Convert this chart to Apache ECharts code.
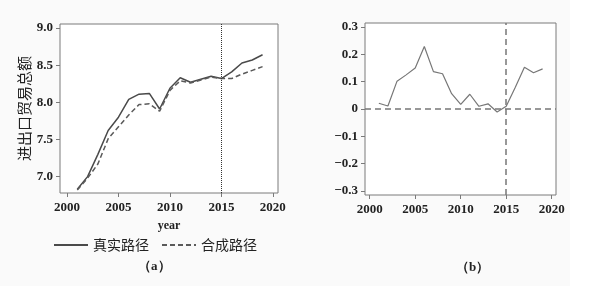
<!DOCTYPE html>
<html><head><meta charset="utf-8">
<script src="https://cdn.jsdelivr.net/npm/echarts@6/dist/echarts.min.js"></script>
<style>html,body{margin:0;padding:0;background:#fafafa}#c{width:589px;height:286px}</style>
</head><body><div id="c"></div>
<script>
const years = [2001,2002,2003,2004,2005,2006,2007,2008,2009,2010,2011,2012,2013,2014,2015,2016,2017,2018,2019];
const realPath = [6.83,7.00,7.30,7.62,7.80,8.04,8.11,8.12,7.91,8.19,8.33,8.27,8.31,8.35,8.32,8.41,8.53,8.57,8.64];
const synthPath = [6.82,6.98,7.17,7.51,7.67,7.83,7.97,7.98,7.88,8.16,8.29,8.26,8.30,8.34,8.32,8.32,8.38,8.43,8.48];
const gap = [0.021,0.011,0.102,0.125,0.150,0.229,0.137,0.129,0.056,0.017,0.054,0.010,0.019,-0.011,0.010,0.080,0.153,0.133,0.147];
const xTicks = [2000,2005,2010,2015,2020];
const yTicksA = [7.0,7.5,8.0,8.5,9.0];
const yTicksB = [-0.3,-0.2,-0.1,0,0.1,0.2,0.3];
const treatYear = 2015;
const legendNames = ['真实路径','合成路径'];

const serif = '"Liberation Serif","DejaVu Serif",serif';
const cjk = '"Noto Sans CJK SC",sans-serif';
const frame = '#7a7a7a';
const lbl = {fontFamily: serif, fontSize: 13, color: '#222', fontWeight: 'bold'};

const chart = echarts.init(document.getElementById('c'));
chart.setOption({
  backgroundColor: '#fafafa',
  animation: false,
  grid: [
    {left: 60, top: 24, width: 218, height: 169, show: true, backgroundColor: '#fff', borderColor: frame, borderWidth: 1},
    {left: 365, top: 23, width: 191, height: 172, show: true, backgroundColor: '#fff', borderColor: frame, borderWidth: 1}
  ],
  xAxis: [
    {type: 'value', gridIndex: 0, min: 1999.32, max: 2020.5,
     name: 'year', nameLocation: 'middle', nameGap: 27,
     nameTextStyle: {fontFamily: serif, fontSize: 12, fontWeight: 'bold', color: '#222'},
     axisLine: {show: false, onZero: false}, splitLine: {show: false},
     axisTick: {show: true, length: 4, lineStyle: {color: frame}, customValues: xTicks},
     axisLabel: Object.assign({margin: 8, customValues: xTicks, formatter: v => String(v)}, lbl)},
    {type: 'value', gridIndex: 1, min: 1999.48, max: 2020.47,
     axisLine: {show: false, onZero: false}, splitLine: {show: false},
     axisTick: {show: true, length: 4, lineStyle: {color: frame}, customValues: xTicks},
     axisLabel: Object.assign({margin: 8, customValues: xTicks, formatter: v => String(v)}, lbl)}
  ],
  yAxis: [
    {type: 'value', gridIndex: 0, min: 6.78, max: 9.054,
     name: '进出口贸易总额', nameLocation: 'middle', nameGap: 28, nameRotate: 90,
     nameTextStyle: {fontFamily: cjk, fontSize: 15, color: '#222'},
     axisLine: {show: false, onZero: false}, splitLine: {show: false},
     axisTick: {show: true, length: 4, lineStyle: {color: frame}, customValues: yTicksA},
     axisLabel: Object.assign({margin: 7, customValues: yTicksA, formatter: v => v.toFixed(1)}, lbl)},
    {type: 'value', gridIndex: 1, min: -0.315, max: 0.315,
     axisLine: {show: false, onZero: false}, splitLine: {show: false},
     axisTick: {show: true, length: 4, lineStyle: {color: frame}, customValues: yTicksB},
     axisLabel: Object.assign({margin: 7, customValues: yTicksB,
       formatter: v => Math.abs(v) < 1e-9 ? '0' : (v < 0 ? '\u2212' + Math.abs(v).toFixed(1) : v.toFixed(1))}, lbl)}
  ],
  legend: {
    left: 48, top: 233, itemWidth: 34, itemHeight: 14, itemGap: 12,
    data: legendNames,
    itemStyle: {opacity: 0},
    textStyle: {fontFamily: cjk, fontSize: 14, color: '#222'}
  },
  series: [
    {name: legendNames[0], type: 'line', xAxisIndex: 0, yAxisIndex: 0, symbol: 'none',
     data: years.map((y, i) => [y, realPath[i]]),
     lineStyle: {color: '#4a4a4a', width: 1.5}, itemStyle: {color: '#4a4a4a'},
     markLine: {silent: true, symbol: 'none', label: {show: false},
       lineStyle: {color: '#333', type: 'dotted', width: 1}, data: [{xAxis: treatYear}]}},
    {name: legendNames[1], type: 'line', xAxisIndex: 0, yAxisIndex: 0, symbol: 'none',
     data: years.map((y, i) => [y, synthPath[i]]),
     lineStyle: {color: '#5a5a5a', width: 1.5, type: [5, 3]}, itemStyle: {color: '#5a5a5a'}},
    {name: 'gap', type: 'line', xAxisIndex: 1, yAxisIndex: 1, symbol: 'none',
     data: years.map((y, i) => [y, gap[i]]),
     lineStyle: {color: '#777', width: 1.2},
     markLine: {silent: true, symbol: 'none', label: {show: false},
       lineStyle: {color: '#777', type: [6, 4], width: 1.5},
       data: [{xAxis: treatYear}, {yAxis: 0}]}}
  ],
  graphic: [
    {type: 'text', left: 138, top: 260, style: {text: '（a）', font: 'bold 13px ' + serif, fill: '#222'}},
    {type: 'text', left: 456, top: 261, style: {text: '（b）', font: 'bold 13px ' + serif, fill: '#222'}},
    {type: 'rect', z: 100, shape: {x: 570, y: 0, width: 19, height: 286}, style: {fill: '#fff'}}
  ]
});
</script></body></html>
